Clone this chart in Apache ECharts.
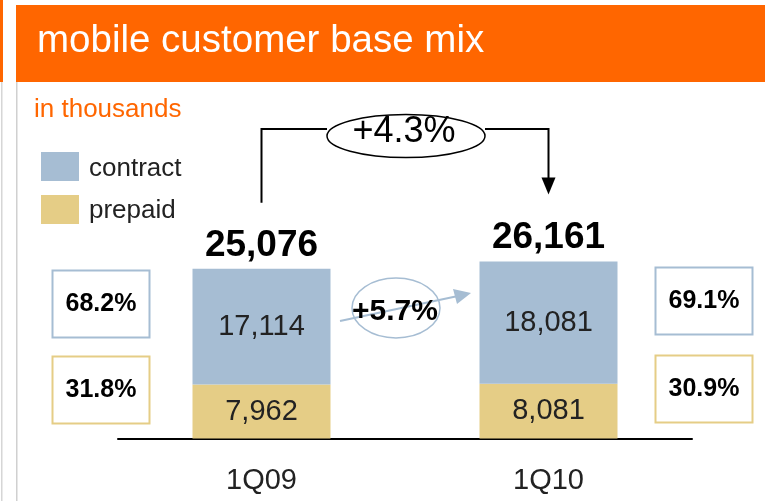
<!DOCTYPE html>
<html>
<head>
<meta charset="utf-8">
<script src="https://cdn.jsdelivr.net/npm/echarts@6/dist/echarts.min.js"></script>
<style>
html,body{margin:0;padding:0;background:#fff;}
#main{width:765px;height:501px;}
</style>
</head>
<body>
<div id="main"></div>
<script>
var categories = ['1Q09', '1Q10'];
var contract = [17114, 18081];
var prepaid = [7962, 8081];
var totals = [25076, 26161];
var seriesNames = ['contract', 'prepaid'];
var titleText = 'mobile customer base mix';
var unitText = 'in thousands';

var BLUE = '#a6bdd3', YELLOW = '#e5cd86', ORANGE = '#ff6600';
var FONT = '"Liberation Sans", Arial, Helvetica, sans-serif';

function fmt(v){ return v.toLocaleString('en-US'); }
function pct(a,b){ return (a/b*100).toFixed(1) + '%'; }
function growth(a,b){ return '+' + ((b/a-1)*100).toFixed(1) + '%'; }

var chart = echarts.init(document.getElementById('main'), null, {renderer:'canvas'});

var option = {
  animation: false,
  backgroundColor: '#fff',
  grid: { left: 118, right: 765 - 692, top: 235.5, bottom: 501 - 438.5, containLabel: false },
  xAxis: {
    type: 'category', data: categories,
    axisLine: { show: true, lineStyle: { color: '#000', width: 2 } },
    axisTick: { show: false },
    axisLabel: { color: '#222', fontSize: 29, fontFamily: FONT, margin: 28 }
  },
  yAxis: { type: 'value', min: 0, max: 30000, show: false, splitLine: { show: false } },
  series: [
    {
      name: seriesNames[1], type: 'bar', stack: 'a', data: prepaid, barWidth: 138,
      itemStyle: { color: YELLOW },
      label: { show: true, position: 'inside', color: '#222', fontSize: 29, fontFamily: FONT,
               formatter: function(p){ return fmt(p.value); } }
    },
    {
      name: seriesNames[0], type: 'bar', stack: 'a', data: contract, barWidth: 138,
      itemStyle: { color: BLUE },
      label: { show: true, position: 'inside', color: '#222', fontSize: 29, fontFamily: FONT,
               formatter: function(p){ return fmt(p.value); } }
    },
    {
      name: 'total', type: 'bar', stack: 'a', data: totals.map(function(){ return 0; }), barWidth: 138,
      itemStyle: { color: 'transparent' }, silent: true,
      label: { show: true, position: 'top', distance: 5, color: '#000', fontSize: 37, fontWeight: 'bold', fontFamily: FONT,
               formatter: function(p){ return fmt(totals[p.dataIndex]); } }
    }
  ]
};
chart.setOption(option);

var x0 = chart.convertToPixel({xAxisIndex:0}, categories[0]);
var x1 = chart.convertToPixel({xAxisIndex:0}, categories[1]);
var yTop0 = chart.convertToPixel({yAxisIndex:0}, totals[0]);
var yTop1 = chart.convertToPixel({yAxisIndex:0}, totals[1]);

var g = [];
// header
g.push({ type:'rect', shape:{x:0,y:0,width:3,height:82}, style:{fill:ORANGE} });
g.push({ type:'rect', shape:{x:1,y:82,width:1.5,height:419}, style:{fill:'#d6d6d6'} });
g.push({ type:'rect', shape:{x:16,y:82,width:1.5,height:419}, style:{fill:'#d0d0d0'} });
g.push({ type:'rect', shape:{x:16,y:5,width:749,height:77}, style:{fill:ORANGE} });
g.push({ type:'text', x:37, y:41, style:{ text:titleText, fill:'#fff', fontSize:38.5, fontFamily:FONT, verticalAlign:'middle' } });
g.push({ type:'text', x:34, y:110, style:{ text:unitText, fill:ORANGE, fontSize:26, fontFamily:FONT, verticalAlign:'middle' } });
// legend
g.push({ type:'rect', shape:{x:41,y:152,width:38,height:29}, style:{fill:BLUE} });
g.push({ type:'text', x:89, y:169, style:{ text:seriesNames[0], fill:'#222', fontSize:26, fontFamily:FONT, verticalAlign:'middle' } });
g.push({ type:'rect', shape:{x:41,y:195,width:38,height:29}, style:{fill:YELLOW} });
g.push({ type:'text', x:89, y:211, style:{ text:seriesNames[1], fill:'#222', fontSize:26, fontFamily:FONT, verticalAlign:'middle' } });

// percentage boxes
function box(x, y, color, txt){
  g.push({ type:'rect', shape:{x:x,y:y,width:97,height:67}, style:{fill:'#fff', stroke:color, lineWidth:2} });
  g.push({ type:'text', x:x+48.5, y:y+34, style:{ text:txt, fill:'#000', fontSize:25, fontWeight:'bold', fontFamily:FONT, align:'center', verticalAlign:'middle' } });
}
box(52.5, 270.5, BLUE, pct(contract[0], totals[0]));
box(52.5, 356.5, YELLOW, pct(prepaid[0], totals[0]));
box(655.5, 267.5, BLUE, pct(contract[1], totals[1]));
box(655.5, 355.5, YELLOW, pct(prepaid[1], totals[1]));

// total growth bracket
var by = 129;
g.push({ type:'polyline', shape:{points:[[x0, yTop0-66],[x0, by],[327, by]]}, style:{stroke:'#000', lineWidth:2, fill:null} });
g.push({ type:'polyline', shape:{points:[[485, by],[x1, by],[x1, yTop1-83]]}, style:{stroke:'#000', lineWidth:2, fill:null} });
g.push({ type:'polygon', shape:{points:[[x1-7, yTop1-84],[x1+7, yTop1-84],[x1, yTop1-67]]}, style:{fill:'#000'} });
g.push({ type:'ellipse', shape:{cx:406, cy:136, rx:79, ry:21.5}, style:{fill:'#fff', stroke:'#000', lineWidth:1.5} });
g.push({ type:'text', x:404, y:132, style:{ text:growth(totals[0], totals[1]), fill:'#000', fontSize:36, fontFamily:FONT, align:'center', verticalAlign:'middle' } });

// contract growth arrow
g.push({ type:'ellipse', shape:{cx:396, cy:308, rx:44, ry:30}, style:{fill:'none', stroke:BLUE, lineWidth:1.5} });
g.push({ type:'line', shape:{x1:340, y1:321, x2:458, y2:296}, style:{stroke:BLUE, lineWidth:2} });
g.push({ type:'polygon', shape:{points:[[471,293],[453,289],[457,304]]}, style:{fill:BLUE} });
g.push({ type:'text', x:395, y:312, style:{ text:growth(contract[0], contract[1]), fill:'#000', fontSize:30, fontWeight:'bold', fontFamily:FONT, align:'center', verticalAlign:'middle' } });

chart.setOption({ graphic: { elements: g } });
</script>
</body>
</html>
